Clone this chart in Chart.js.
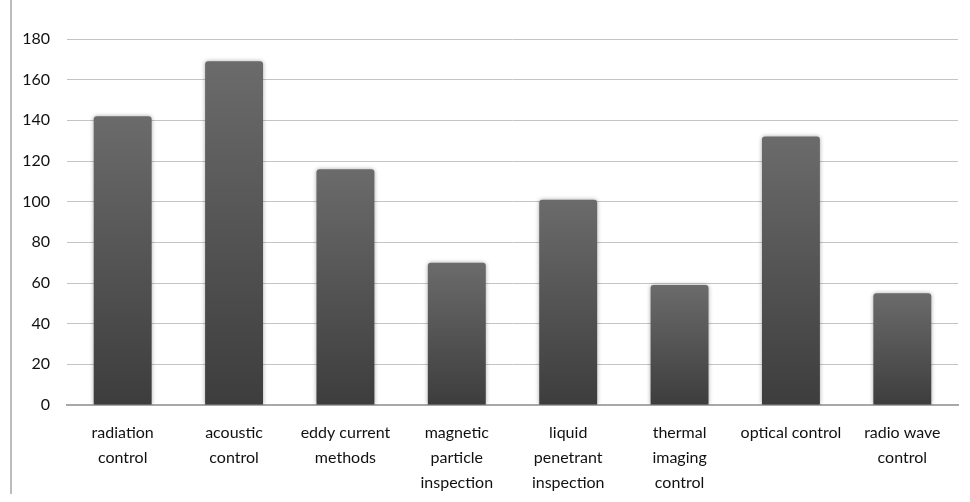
<!DOCTYPE html>
<html>
<head>
<meta charset="utf-8">
<script src="https://cdn.jsdelivr.net/npm/chart.js@4"></script>
<style>
  html, body { margin: 0; padding: 0; background: #fff; }
  #wrap { position: relative; width: 970px; height: 502px; }
  #edge { position: absolute; left: 10px; top: 0; width: 0; height: 494px; border-left: 2px solid #bdbdbd; }
</style>
</head>
<body>
<div id="wrap">
  <div id="edge"></div>
  <canvas id="ndtChart" width="970" height="502"></canvas>
</div>
<script>
// Categories and values
const categories = [
    ['radiation', 'control'],
    ['acoustic', 'control'],
    ['eddy current', 'methods'],
    ['magnetic', 'particle', 'inspection'],
    ['liquid', 'penetrant', 'inspection'],
    ['thermal', 'imaging', 'control'],
    ['optical control'],
    ['radio wave', 'control']
];
const counts = [142, 169, 116, 70, 101, 59, 132, 55];
const yTicks = [0, 20, 40, 60, 80, 100, 120, 140, 160, 180];

// Per-bar vertical gradient, light at the top, dark at the base
function barFill(context) {
    const chart = context.chart;
    const y = chart.scales.y;
    if (!chart.chartArea || !y || context.dataIndex === undefined) return '#555';
    const top = y.getPixelForValue(counts[context.dataIndex]);
    const base = y.getPixelForValue(0);
    if (!Number.isFinite(top) || !Number.isFinite(base)) return '#555';
    const g = chart.ctx.createLinearGradient(0, top, 0, base);
    g.addColorStop(0, '#6b6b6b');
    g.addColorStop(1, '#3d3d3d');
    return g;
}

// Soft blurred edge around each bar
const barShadow = {
    id: 'barShadow',
    beforeDatasetDraw(chart) {
        const c = chart.ctx;
        c.save();
        c.shadowColor = 'rgba(0,0,0,0.35)';
        c.shadowBlur = 4;
    },
    afterDatasetDraw(chart) {
        chart.ctx.restore();
    }
};

const ctx = document.getElementById('ndtChart').getContext('2d');

new Chart(ctx, {
    type: 'bar',
    data: {
        labels: categories,
        datasets: [{
            data: counts,
            backgroundColor: barFill,
            borderWidth: 0,
            borderRadius: { topLeft: 3, topRight: 3 },
            borderSkipped: 'bottom',
            categoryPercentage: 1,
            barPercentage: 0.52
        }]
    },
    options: {
        responsive: false,
        animation: false,
        layout: { padding: { top: 39, right: 12, left: 0, bottom: 0 } },
        plugins: {
            legend: { display: false },
            tooltip: { enabled: false }
        },
        scales: {
            x: {
                grid: { display: false },
                border: { display: true, color: '#a8a8a8', width: 2 },
                ticks: {
                    color: '#111',
                    font: { family: 'Lato, "Open Sans", sans-serif', size: 16, lineHeight: 1.56 },
                    padding: 7,
                    maxRotation: 0,
                    autoSkip: false
                },
                afterFit: s => { s.height = 97; }
            },
            y: {
                min: 0,
                max: 180,
                afterBuildTicks: s => { s.ticks = yTicks.map(v => ({ value: v })); },
                grid: { color: '#c4c4c4', lineWidth: 1, drawTicks: false },
                border: { display: false },
                ticks: {
                    color: '#111',
                    font: { family: 'Lato, "Open Sans", sans-serif', size: 16 },
                    padding: 17
                },
                afterFit: s => { s.width = 67; }
            }
        }
    },
    plugins: [barShadow]
});
</script>
</body>
</html>
